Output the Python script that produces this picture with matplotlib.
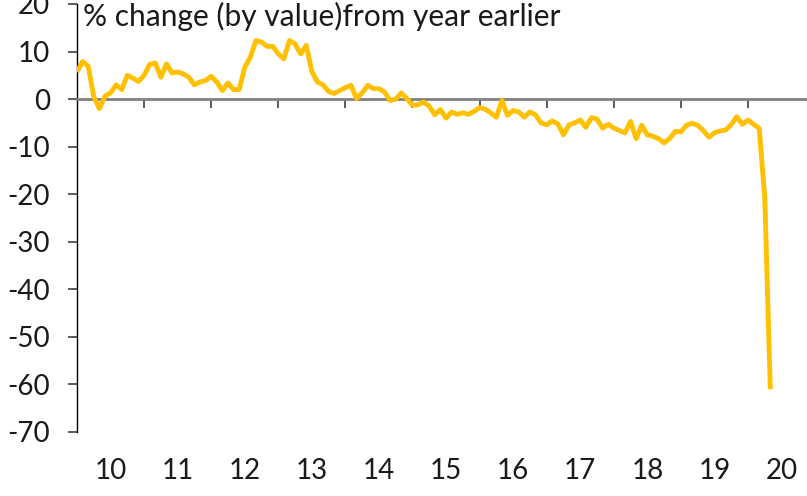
import matplotlib
matplotlib.use('Agg')
import matplotlib.pyplot as plt
import matplotlib.transforms as mtransforms
import numpy as np

plt.rcParams['font.family'] = ['Lato', 'DejaVu Sans']

# monthly % change from a year earlier, Jan 2010 - May 2020
y2010 = [5.7, 7.9, 6.9, 0.5, -2.0, 0.6, 1.3, 3.0, 2.0, 5.0, 4.4, 3.7]
y2011 = [5.0, 7.3, 7.6, 4.6, 7.4, 5.5, 5.7, 5.3, 4.6, 3.0, 3.6, 3.9]
y2012 = [4.8, 3.6, 1.8, 3.4, 2.0, 2.0, 6.7, 8.8, 12.3, 12.0, 11.1, 11.1]
y2013 = [9.5, 8.5, 12.3, 11.6, 9.5, 11.3, 5.8, 3.6, 3.0, 1.6, 1.2, 1.8]
y2014 = [2.4, 2.9, 0.1, 1.3, 2.9, 2.2, 2.2, 1.5, -0.3, 0.0, 1.3, 0.1]
y2015 = [-1.3, -1.2, -0.6, -1.5, -3.3, -2.2, -4.0, -2.7, -3.2, -2.9, -3.2, -2.6]
y2016 = [-1.8, -2.1, -2.9, -3.8, -0.3, -3.4, -2.4, -2.7, -3.8, -2.7, -3.3, -5.0]
y2017 = [-5.4, -4.6, -5.2, -7.5, -5.4, -5.0, -4.4, -5.9, -3.9, -4.2, -6.1, -5.3]
y2018 = [-6.1, -6.6, -7.1, -4.7, -8.3, -5.5, -7.5, -7.8, -8.3, -9.2, -8.3, -6.8]
y2019 = [-6.9, -5.5, -5.1, -5.5, -6.6, -8.0, -7.1, -6.7, -6.5, -5.4, -3.7, -5.3]
y2020 = [-4.4, -5.3, -6.1, -20.5, -61.0]

values = np.array(y2010 + y2011 + y2012 + y2013 + y2014 + y2015 + y2016
                  + y2017 + y2018 + y2019 + y2020)
# decimal year for each month
t = 2010 + np.arange(len(values)) / 12

year_labels = ['10', '11', '12', '13', '14', '15', '16', '17', '18', '19', '20']
yticks = [20, 10, 0, -10, -20, -30, -40, -50, -60, -70]

fig = plt.figure(figsize=(8.07, 4.96), dpi=100)
ax = fig.add_axes([77 / 807, 64 / 496, 730 / 807, 428 / 496])

ax.plot(t, values, color='#FFC000', lw=3.5, solid_joinstyle='round',
        solid_capstyle='butt', zorder=3)

ax.set_xlim(2010, 2020.88)
ax.set_ylim(-70, 20)

ax.spines['top'].set_visible(False)
ax.spines['right'].set_visible(False)
ax.spines['left'].set_linewidth(1.0)
ax.spines['bottom'].set_position(('data', 0))
ax.spines['bottom'].set_color('#808080')
ax.spines['bottom'].set_linewidth(2)

ax.set_xticks(np.arange(2011, 2021))
ax.tick_params(axis='x', direction='out', length=6.5, width=1.2,
               color='#404040', labelbottom=False)
ax.set_yticks(yticks)
ax.set_yticklabels([str(v) for v in yticks])
ax.tick_params(axis='y', direction='out', length=6.5, width=1.2,
               color='#404040', pad=13, labelsize=20, labelcolor='#1a1a1a')

# year labels sit between the year ticks, below the plot
trans = mtransforms.blended_transform_factory(ax.transData, fig.transFigure)
for i, lab in enumerate(year_labels):
    ax.text(2010.5 + i, 25 / 496, lab, transform=trans, ha='center',
            va='center', fontsize=20, color='#1a1a1a', clip_on=False)

fig.text(83 / 807, 1 - 2 / 496, '% change (by value)from year earlier',
         ha='left', va='top', fontsize=21.5, color='#1a1a1a')

fig.savefig('out.png', dpi=100)
